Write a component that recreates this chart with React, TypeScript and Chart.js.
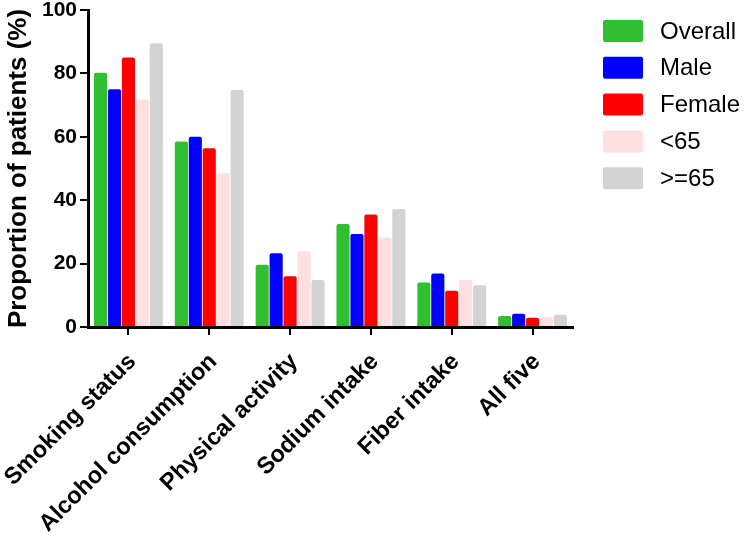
import React, { useEffect, useRef } from "react";
import { Chart, registerables } from "chart.js";

Chart.register(...registerables);

const categories = [
  "Smoking status",
  "Alcohol consumption",
  "Physical activity",
  "Sodium intake",
  "Fiber intake",
  "All five",
];
const seriesNames = ["Overall", "Male", "Female", "<65", ">=65"];
const overall = [80.2, 58.5, 19.6, 32.5, 14.0, 3.5];
const male = [75.0, 60.0, 23.3, 29.3, 16.9, 4.2];
const female = [85.0, 56.4, 16.0, 35.5, 11.4, 2.9];
const under65 = [71.8, 48.5, 23.9, 28.2, 14.8, 3.1];
const over65 = [89.5, 74.8, 14.8, 37.2, 13.2, 3.9];
const seriesColors = ["#2fbf2f", "#0000ff", "#ff0000", "#ffdfdf", "#d3d3d3"];
const yTicks = [0, 20, 40, 60, 80, 100];

const FONT = "Arial, 'Liberation Sans', sans-serif";

const legendPlugin = {
  id: "sideLegend",
  afterDraw(chart: any) {
    const { ctx, chartArea } = chart;
    const x0 = chartArea.right + 30;
    const y0 = 20;
    const rowH = 36.8;
    ctx.save();
    ctx.font = `24px ${FONT}`;
    ctx.textBaseline = "middle";
    ctx.textAlign = "left";
    chart.data.datasets.forEach((ds: any, i: number) => {
      const y = y0 + i * rowH;
      ctx.fillStyle = ds.backgroundColor;
      ctx.beginPath();
      if (ctx.roundRect) ctx.roundRect(x0, y, 40, 22, 2);
      else ctx.rect(x0, y, 40, 22);
      ctx.fill();
      ctx.fillStyle = "#000";
      ctx.fillText(ds.label, x0 + 57, y + 12);
    });
    ctx.restore();
  },
};

export default function App() {
  const ref = useRef<HTMLCanvasElement>(null);
  useEffect(() => {
    if (!ref.current) return;
    const values = [overall, male, female, under65, over65];
    const chart = new Chart(ref.current, {
      type: "bar",
      data: {
        labels: categories,
        datasets: seriesNames.map((name, i) => ({
          label: name,
          data: values[i],
          backgroundColor: seriesColors[i],
          borderWidth: 0,
          borderRadius: 2,
          borderSkipped: "start",
          categoryPercentage: 0.8625,
          barPercentage: 0.94,
        })),
      },
      options: {
        responsive: false,
        animation: false,
        maintainAspectRatio: false,
        layout: { padding: { top: 10, right: 171, left: 0, bottom: 0 } },
        plugins: {
          legend: { display: false },
          tooltip: { enabled: false },
        },
        scales: {
          x: {
            offset: true,
            afterFit: (axis: any) => {
              axis.height = 211;
              axis.paddingLeft = 0;
              axis.paddingRight = 0;
            },
            grid: {
              offset: false,
              drawOnChartArea: false,
              drawTicks: true,
              tickLength: 8,
              color: "#000",
              lineWidth: 2,
            },
            border: { display: true, color: "#000", width: 3 },
            ticks: {
              color: "#000",
              font: { family: FONT, size: 23.5, weight: "bold" },
              maxRotation: 45,
              minRotation: 45,
              padding: 13,
              labelOffset: 4,
              autoSkip: false,
            },
          },
          y: {
            min: 0,
            max: 100,
            afterBuildTicks: (axis: any) => {
              axis.ticks = yTicks.map((v) => ({ value: v }));
            },
            afterFit: (axis: any) => {
              axis.width = 88;
              axis.paddingTop = 0;
              axis.paddingBottom = 0;
            },
            grid: {
              drawOnChartArea: false,
              drawTicks: true,
              tickLength: 8,
              color: "#000",
              lineWidth: 2,
            },
            border: { display: true, color: "#000", width: 3 },
            ticks: {
              color: "#000",
              font: { family: FONT, size: 21, weight: "bold" },
              padding: 3,
            },
            title: {
              display: true,
              text: "Proportion of patients (%)",
              color: "#000",
              font: { family: FONT, size: 26, weight: "bold" },
              padding: { top: 3, bottom: 4 },
            },
          },
        },
      },
      plugins: [legendPlugin],
    });
    return () => chart.destroy();
  }, []);
  return (
    <div style={{ position: "fixed", left: 0, top: 0, width: 744, height: 538, background: "#fff" }}>
      <canvas ref={ref} width={744} height={538} style={{ display: "block" }} />
    </div>
  );
}
